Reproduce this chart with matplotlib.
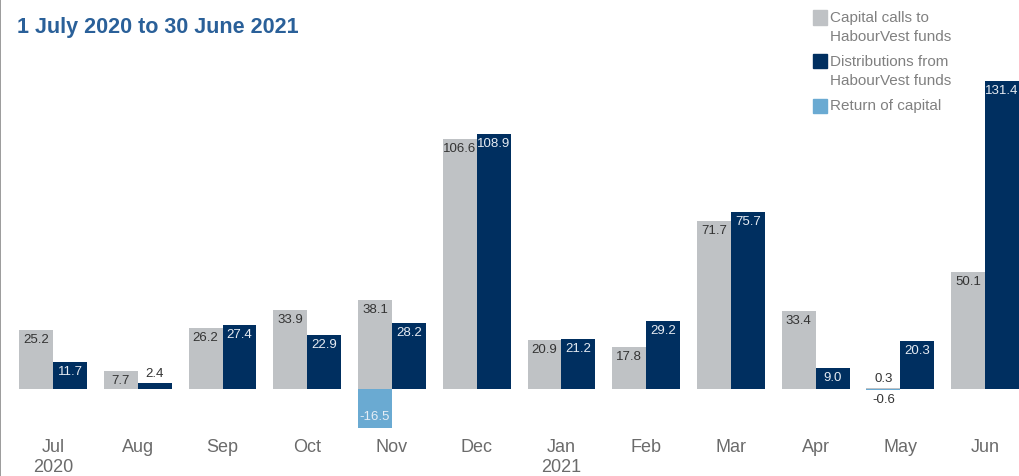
import numpy as np
import matplotlib
matplotlib.use("Agg")
import matplotlib.pyplot as plt
from matplotlib.patches import Rectangle

plt.rcParams["font.family"] = ["Liberation Sans", "DejaVu Sans"]

# data (GBP m)
months = ["Jul", "Aug", "Sep", "Oct", "Nov", "Dec", "Jan", "Feb", "Mar", "Apr", "May", "Jun"]
years = {0: "2020", 6: "2021"}
capital_calls = [25.2, 7.7, 26.2, 33.9, 38.1, 106.6, 20.9, 17.8, 71.7, 33.4, 0.3, 50.1]
distributions = [11.7, 2.4, 27.4, 22.9, 28.2, 108.9, 21.2, 29.2, 75.7, 9.0, 20.3, 131.4]
return_of_capital = [None, None, None, None, -16.5, None, None, None, None, None, -0.6, None]

GREY = "#bfc2c5"
NAVY = "#002f60"
LIGHT = "#6aaad2"
TITLE_BLUE = "#2a6099"

W, H = 1019, 476
fig = plt.figure(figsize=(W / 100, H / 100), dpi=100)
ax = fig.add_axes([0, 0, 1, 1])

x = np.arange(len(months))
bw = 0.40
px_per_unit = 2.344
zero_px = 389  # from top
ax.set_xlim(-0.626, 11.40)
ax.set_ylim(-(H - zero_px) / px_per_unit, zero_px / px_per_unit)

ax.bar(x - bw / 2, capital_calls, bw, color=GREY)
ax.bar(x + bw / 2, distributions, bw, color=NAVY)
roc_x = [xi - bw / 2 for xi, v in zip(x, return_of_capital) if v is not None]
roc_v = [v for v in return_of_capital if v is not None]
ax.bar(roc_x, roc_v, bw, color=LIGHT)

off = 10 / px_per_unit  # ~10 px


def label(xp, v, inside_col, outside_col="#333333"):
    if abs(v) >= 5:
        y = v - np.sign(v) * off
        col = inside_col
    else:
        y = v + np.sign(v) * (off * 0.9) if v != 0 else off
        col = outside_col
    ax.text(xp, y, f"{v:.1f}", ha="center", va="center", fontsize=9.5, color=col)


for i in x:
    label(i - bw / 2, capital_calls[i], "#333333")
    label(i + bw / 2, distributions[i], "#e6ebf2")
    if return_of_capital[i] is not None:
        v = return_of_capital[i]
        if abs(v) >= 5:
            ax.text(i - bw / 2, v + 11 / px_per_unit, f"{v:.1f}", ha="center", va="center",
                    fontsize=9.5, color="#e6eef6")
        else:
            ax.text(i - bw / 2, v - off, f"{v:.1f}", ha="center", va="center",
                    fontsize=9.5, color="#333333")

# month labels
for i, m in enumerate(months):
    ax.text(i, -(447 - zero_px) / px_per_unit, m, ha="center", va="center",
            fontsize=13, color="#6b6b6b")
for i, yr in years.items():
    ax.text(i, -(467 - zero_px) / px_per_unit, yr, ha="center", va="center",
            fontsize=13, color="#6b6b6b")

ax.set_xticks([])
ax.set_yticks([])
for s in ["top", "right", "bottom"]:
    ax.spines[s].set_visible(False)
ax.spines["left"].set_color("#8a8a8a")
ax.spines["left"].set_linewidth(1.2)

# title
fig.text(17 / W, 1 - 27 / H, "1 July 2020 to 30 June 2021", ha="left", va="center",
         fontsize=15.5, fontweight="bold", color=TITLE_BLUE)

# legend
legend_items = [
    (GREY, ["Capital calls to", "HabourVest funds"], 18),
    (NAVY, ["Distributions from", "HabourVest funds"], 62),
    (LIGHT, ["Return of capital"], 106),
]
for col, lines, ytop in legend_items:
    fig.patches.append(Rectangle((813 / W, 1 - (ytop + 6.5) / H), 14 / W, 14 / H,
                                 transform=fig.transFigure, color=col))
    for k, ln in enumerate(lines):
        fig.text(830 / W, 1 - (ytop + 19 * k) / H, ln, ha="left", va="center",
                 fontsize=11, color="#808080")

fig.savefig("out.png", dpi=100)
